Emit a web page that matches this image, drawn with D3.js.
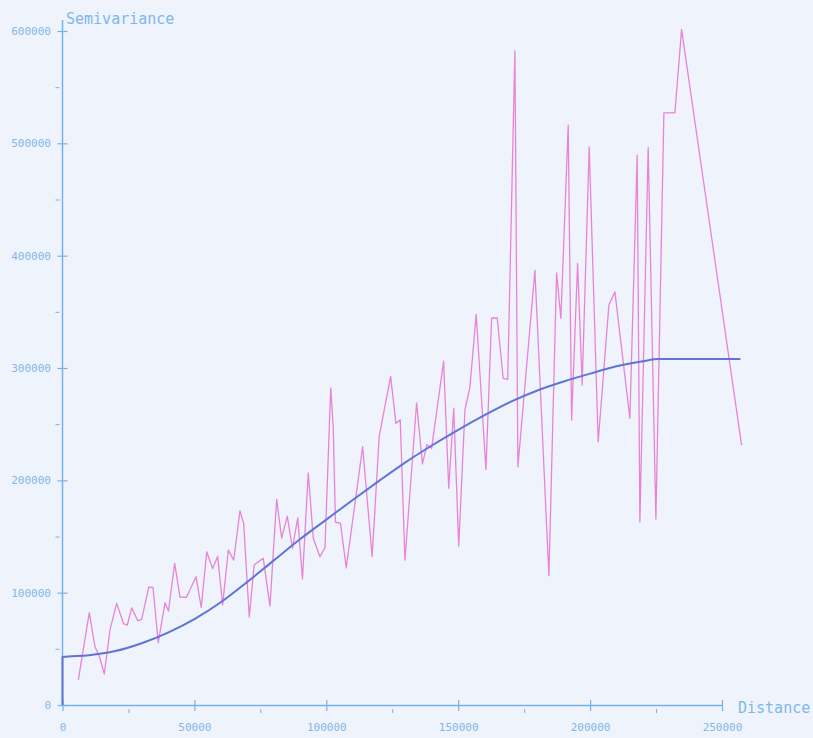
<!DOCTYPE html>
<html>
<head>
<meta charset="utf-8">
<script src="https://cdn.jsdelivr.net/npm/d3@7"></script>
<style>
  html, body { margin: 0; padding: 0; background: #eff3fc; }
  svg { display: block; }
</style>
</head>
<body>
<script>
// Experimental semivariogram (distance, semivariance)
const expDist = [6000, 10160, 12300, 14000, 15840, 18000, 20540, 23120, 24560, 26230, 28540, 30020,
  32700, 34300, 36300, 38850, 40170, 42520, 44530, 47000, 50600, 52600, 54650, 56900, 58820, 60700,
  62840, 64900, 67270, 68670, 70800, 72650, 76100, 78640, 81180, 83080, 85200, 87170, 89180, 90960,
  93160, 95050, 97590, 99490, 101690, 102630, 103470, 105360, 107560, 113780, 117380, 120070, 124390,
  126400, 128030, 129810, 134240, 136440, 138150, 139930, 144470, 146410, 148300, 150200, 152550,
  154440, 156830, 160510, 162670, 164790, 167060, 168770, 171500, 172630, 179080, 184380, 187300,
  188930, 191700, 192990, 195260, 197000, 199660, 203070, 207120, 209400, 215080, 217850, 218870,
  222020, 224940, 227970, 232140, 234680, 257420];
const expVal = [22300, 82200, 51900, 43000, 27600, 66800, 90500, 72500, 71200, 86500, 75000, 76300,
  105000, 104800, 55400, 91000, 83700, 126100, 96100, 95900, 114200, 86800, 136400, 121500, 132300, 89000,
  137900, 129000, 172900, 161700, 78300, 124600, 130600, 88100, 183100, 148600, 168200, 139500, 166600, 112300,
  206700, 148600, 132000, 140200, 282300, 246500, 162700, 162000, 122100, 229900, 132300, 239400, 292500,
  250700, 253900, 129000, 269000, 214500, 231700, 228500, 306000, 192900, 264200, 141500, 262600,
  283000, 347700, 209700, 344500, 344500, 290700, 289900, 582300, 212000, 386800, 115100, 384700,
  344200, 516200, 253600, 393100, 284800, 496900, 234300, 356000, 367800, 255200, 489500, 162900,
  496200, 165500, 527100, 527100, 601400, 231400];

// Fitted model curve (distance, semivariance)
const modelDist = [0, 0, 10000, 20000, 30000, 40000, 50000, 60000, 70000, 80000, 90000, 100000,
  110000, 120000, 130000, 140000, 150000, 160000, 170000, 180000, 190000, 200000, 210000, 220000,
  226000, 257000];
const modelVal = [0, 42700, 44200, 48000, 55000, 64500, 76500, 91500, 109500, 128500, 147500, 165000,
  182500, 199500, 216000, 231000, 245000, 258000, 270000, 280000, 288000, 295000, 301500, 306000,
  308000, 308000];

// Axis ticks
const xMajorTicks = [0, 50000, 100000, 150000, 200000, 250000];
const xMinorTicks = [25000, 75000, 125000, 175000, 225000];
const yMajorTicks = [0, 100000, 200000, 300000, 400000, 500000, 600000];
const yMinorTicks = [50000, 150000, 250000, 350000, 450000, 550000];
const xTitle = "Distance";
const yTitle = "Semivariance";

const W = 813, H = 738;
const axisColor = "#74b2ec";
const textColor = "#80b8ea";
const fontMono = "'DejaVu Sans Mono', 'Liberation Mono', monospace";

const svg = d3.select("body").append("svg").attr("width", W).attr("height", H);
svg.append("rect").attr("width", W).attr("height", H).attr("fill", "#eff3fc");

const x = d3.scaleLinear().domain([0, 250000]).range([62.5, 722]);
const y = d3.scaleLinear().domain([0, 600000]).range([705, 31]);

// X axis
const gx = svg.append("g").attr("transform", `translate(0,${y(0)})`)
  .call(d3.axisBottom(x).tickValues(xMajorTicks).tickFormat(d3.format("d"))
    .tickSize(6).tickPadding(12).tickSizeOuter(0));
gx.select(".domain").attr("stroke", axisColor).attr("stroke-width", 1.5);
gx.selectAll(".tick line").attr("stroke", axisColor).attr("stroke-width", 1.2).attr("y1", -5).attr("y2", 6);
gx.selectAll(".tick text").attr("fill", textColor).attr("font-family", fontMono).attr("font-size", 11);

const gxm = svg.append("g").attr("transform", `translate(0,${y(0) + 4})`)
  .call(d3.axisBottom(x).tickValues(xMinorTicks).tickFormat("").tickSize(4).tickSizeOuter(0));
gxm.select(".domain").remove();
gxm.selectAll(".tick line").attr("stroke", axisColor).attr("stroke-width", 1);

// Y axis
const gy = svg.append("g").attr("transform", `translate(${x(0)},0)`)
  .call(d3.axisLeft(y).tickValues(yMajorTicks).tickFormat(d3.format("d"))
    .tickSize(5).tickPadding(6.5).tickSizeOuter(0));
gy.select(".domain").attr("stroke", axisColor).attr("stroke-width", 1.5)
  .attr("d", `M0,${y(0)}V20`);
gy.selectAll(".tick line").attr("stroke", axisColor).attr("stroke-width", 1.2).attr("x1", 5).attr("x2", -5);
gy.selectAll(".tick text").attr("fill", textColor).attr("font-family", fontMono).attr("font-size", 11);

const gym = svg.append("g").attr("transform", `translate(${x(0) - 3},0)`)
  .call(d3.axisLeft(y).tickValues(yMinorTicks).tickFormat("").tickSize(4).tickSizeOuter(0));
gym.select(".domain").remove();
gym.selectAll(".tick line").attr("stroke", axisColor).attr("stroke-width", 1);

// Titles
svg.append("text").attr("x", 66).attr("y", 24).text(yTitle)
  .attr("fill", textColor).attr("font-family", fontMono).attr("font-size", 15);
svg.append("text").attr("x", 738).attr("y", 713).text(xTitle)
  .attr("fill", textColor).attr("font-family", fontMono).attr("font-size", 15);

// Experimental line
const expData = expDist.map((d, i) => [d, expVal[i]]);
svg.append("path").datum(expData)
  .attr("fill", "none").attr("stroke", "#e883d8").attr("stroke-width", 1.3)
  .attr("stroke-linejoin", "round")
  .attr("d", d3.line().x(d => x(d[0])).y(d => y(d[1])));

// Model line
const modelData = modelDist.map((d, i) => [d, modelVal[i]]);
svg.append("path").datum(modelData)
  .attr("fill", "none").attr("stroke", "#5e74d6").attr("stroke-width", 2)
  .attr("stroke-linejoin", "round")
  .attr("d", d3.line().x(d => x(d[0])).y(d => y(d[1])).curve(d3.curveMonotoneX));
</script>
</body>
</html>
